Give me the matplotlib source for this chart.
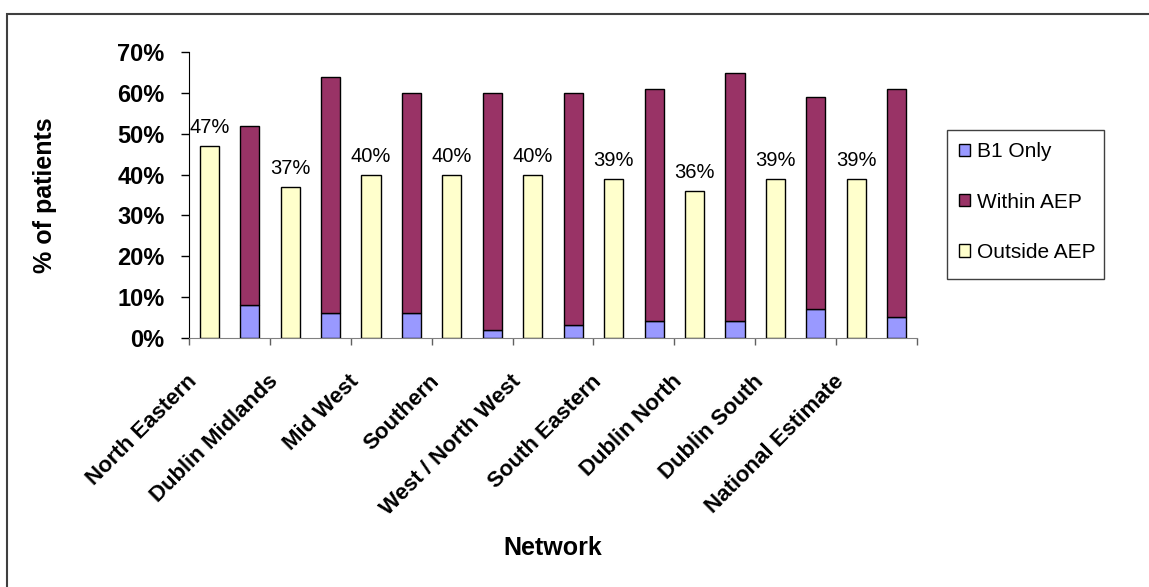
import numpy as np
import matplotlib
matplotlib.use("Agg")
import matplotlib.pyplot as plt
from matplotlib.patches import Rectangle

plt.rcParams["font.family"] = ["Liberation Sans", "DejaVu Sans"]

# data (percent of patients)
networks = [
    "North Eastern",
    "Dublin Midlands",
    "Mid West",
    "Southern",
    "West / North West",
    "South Eastern",
    "Dublin North",
    "Dublin South",
    "National Estimate",
]
outside_aep = [47, 37, 40, 40, 40, 39, 36, 39, 39]
b1_only = [8, 6, 6, 2, 3, 4, 4, 7, 5]
within_aep = [44, 58, 54, 58, 57, 57, 61, 52, 56]

col_b1 = "#9999FF"
col_within = "#993366"
col_outside = "#FFFFCC"

W, H = 1149, 587
fig = plt.figure(figsize=(W / 100, H / 100), dpi=100)
ax = fig.add_axes([189 / W, 1 - 337.7 / H, (917 - 189) / W, (337.7 - 52.3) / H])

# outer chart border
fig.patches.append(Rectangle((7 / W, -0.1), 1.2, 1.1 - 14 / H,
                             transform=fig.transFigure, fill=False,
                             edgecolor="#3f3f3f", linewidth=1.5, zorder=0))

x = np.arange(len(networks))
w = 0.235
ax.bar(x + 0.75, b1_only, w, color=col_b1, edgecolor="black", linewidth=1, label="B1 Only", zorder=3)
ax.bar(x + 0.75, within_aep, w, bottom=b1_only, color=col_within, edgecolor="black", linewidth=1,
       label="Within AEP", zorder=3)
ax.bar(x + 0.25, outside_aep, w, color=col_outside, edgecolor="black", linewidth=1,
       label="Outside AEP", zorder=3)

for xi, v in zip(x, outside_aep):
    ax.annotate(f"{v}%", xy=(xi + 0.25, v), xytext=(0, 9.4), textcoords="offset points",
                ha="center", va="baseline", fontsize=14.5)

ax.set_xlim(0, len(networks))
ax.set_ylim(0, 70)
ax.set_yticks(np.arange(0, 71, 10))
ax.set_yticklabels([f"{v}%" for v in range(0, 71, 10)], fontsize=17, fontweight="bold")
ax.set_xticks(np.arange(0, len(networks) + 1))
ax.set_xticklabels([])

for lab, xi in zip(networks, x):
    ax.annotate(lab, xy=(xi + 0.5, 0), xycoords=("data", "axes fraction"),
                xytext=(-25.5, -29.5), textcoords="offset points",
                rotation=45, ha="right", va="center", rotation_mode="anchor",
                fontsize=16, fontweight="bold")

ax.spines["top"].set_visible(False)
ax.spines["right"].set_visible(False)
ax.spines["left"].set_color("black")
ax.spines["bottom"].set_color("#808080")
ax.tick_params(axis="y", direction="out", length=5.5, width=1, color="black", pad=12)
ax.tick_params(axis="x", direction="out", length=5, width=1, color="#606060")

fig.text(45 / W, 1 - 195 / H, "% of patients", rotation=90, ha="center", va="center",
         fontsize=18, fontweight="bold")
fig.text(553 / W, 1 - 548 / H, "Network", ha="center", va="center", fontsize=18, fontweight="bold")

# legend: entries placed without frame, box drawn separately
leg = ax.legend(loc="center left", bbox_to_anchor=(959 / W, 1 - 202 / H),
                bbox_transform=fig.transFigure, fontsize=15, frameon=False,
                handlelength=0.55, handleheight=0.55, handletextpad=0.3, labelspacing=1.5,
                borderpad=0, borderaxespad=0)
for h in leg.legend_handles:
    h.set_linewidth(1)
fig.patches.append(Rectangle((947 / W, 1 - 279 / H), (1104 - 947) / W, (279 - 130) / H,
                             transform=fig.transFigure, fill=False,
                             edgecolor="#404040", linewidth=1, zorder=1))

fig.savefig("out.png", dpi=100)
